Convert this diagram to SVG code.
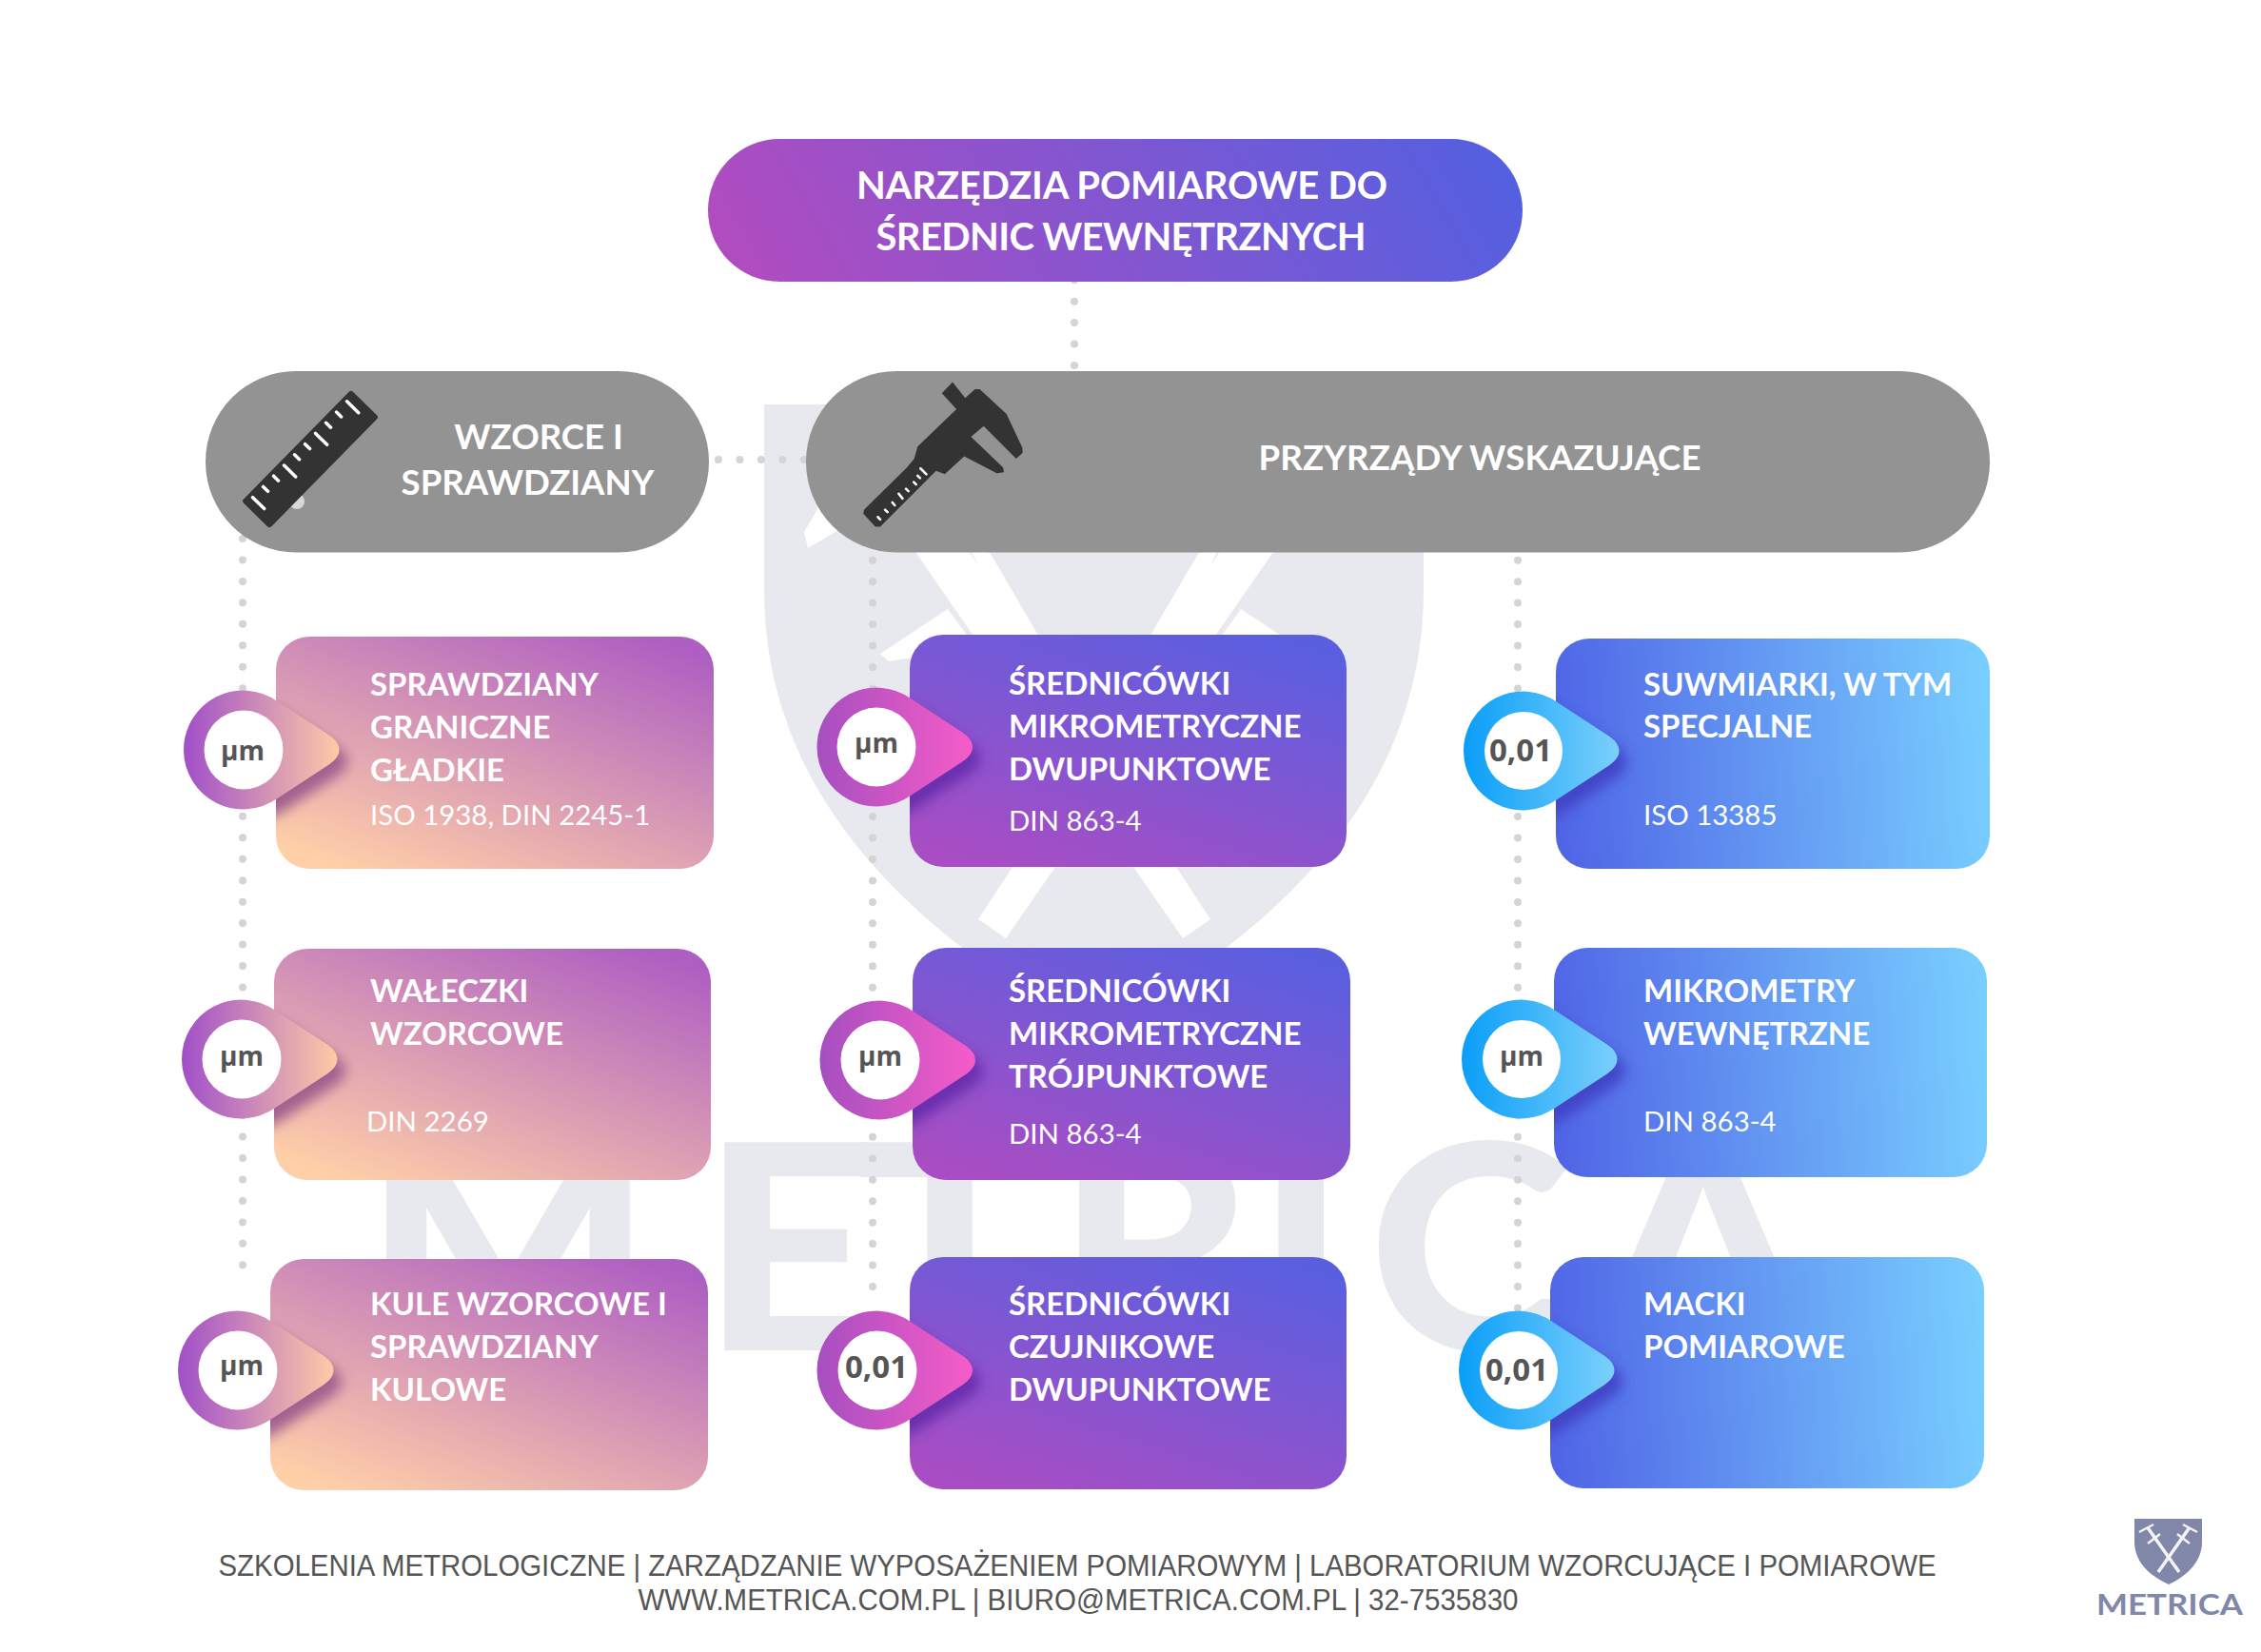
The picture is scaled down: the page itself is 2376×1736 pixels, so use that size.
<svg xmlns="http://www.w3.org/2000/svg" width="2376" height="1736" viewBox="0 0 2376 1736">
<style>
text{font-family:Lato,"Noto Sans",sans-serif;fill:#fff}
.h{font-size:33px;font-weight:700}
.s{font-size:29.400px;font-weight:400}
.p{font-size:36.600px;font-weight:700}
.t{font-size:40px;font-weight:700}
.pl{font-family:"Open Sans","Noto Sans",sans-serif;fill:#555;font-weight:700;text-anchor:middle}
.um{font-size:28px}.n{font-size:33px}
.f{font-family:"Liberation Sans",Arial,sans-serif;fill:#555;font-size:31px;text-anchor:middle}
.wm{fill:#e8e9ef;stroke:#e8e9ef;font-weight:700}
.lg{fill:#8087a8;font-weight:700}
.dots{fill:none;stroke:#d4d4d4;stroke-width:8;stroke-linecap:round;stroke-dasharray:0 22.45}
.grey{fill:#939393}
.dark{fill:#333}
.tick{fill:none;stroke:#fff;stroke-width:3.500;stroke-linecap:round}
.w{fill:#fff}
</style>
<defs>
<linearGradient id="gt" x1="0" y1="0.55" x2="1" y2="0.45"><stop offset="0" stop-color="#b14cc0"/><stop offset="1" stop-color="#5460e0"/></linearGradient>
<linearGradient id="g1" x1="0.15" y1="1" x2="0.85" y2="0"><stop offset="0" stop-color="#ffcfa8"/><stop offset="1" stop-color="#ae5fc2"/></linearGradient>
<linearGradient id="g2" x1="0.2" y1="1" x2="0.8" y2="0"><stop offset="0" stop-color="#a84dc3"/><stop offset="1" stop-color="#5a5fe0"/></linearGradient>
<linearGradient id="g3" x1="0" y1="0.52" x2="1" y2="0.48"><stop offset="0" stop-color="#5065e6"/><stop offset="1" stop-color="#78ceff"/></linearGradient>
<linearGradient id="p1" x1="0" y1="0.5" x2="1" y2="0.5"><stop offset="0" stop-color="#a04fc8"/><stop offset="1" stop-color="#fdcba6"/></linearGradient>
<linearGradient id="p2" x1="0" y1="0.5" x2="1" y2="0.5"><stop offset="0" stop-color="#a64fc0"/><stop offset="1" stop-color="#f65cc8"/></linearGradient>
<linearGradient id="p3" x1="0" y1="0.5" x2="1" y2="0.5"><stop offset="0" stop-color="#0a9ef8"/><stop offset="1" stop-color="#7bd0fc"/></linearGradient>
<path id="pin" d="M-62.500 0A62.500 62.500 0 0 1 36-51L91-15Q101-8 101 0Q101 8 91 15L36 51A62.500 62.500 0 0 1-62.500 0Z"/>
<filter id="blur" x="-30%" y="-30%" width="160%" height="160%"><feGaussianBlur stdDeviation="7"/></filter>
<clipPath id="c11"><rect x="290" y="669" width="460" height="244" rx="35"/></clipPath>
<clipPath id="c12"><rect x="288" y="997" width="459" height="243" rx="35"/></clipPath>
<clipPath id="c13"><rect x="284" y="1323" width="460" height="243" rx="35"/></clipPath>
<clipPath id="c21"><rect x="956" y="667" width="459" height="244" rx="35"/></clipPath>
<clipPath id="c22"><rect x="959" y="996" width="460" height="244" rx="35"/></clipPath>
<clipPath id="c23"><rect x="956" y="1321" width="459" height="244" rx="35"/></clipPath>
<clipPath id="c31"><rect x="1635" y="671" width="456" height="242" rx="35"/></clipPath>
<clipPath id="c32"><rect x="1633" y="996" width="455" height="241" rx="35"/></clipPath>
<clipPath id="c33"><rect x="1629" y="1321" width="456" height="243" rx="35"/></clipPath>
<g id="arm">
<path class="w" d="M955 570L1012 570L1272 966L1243 986Z"/>
<path class="w" d="M1016 570L1041 582L1110 700L1080 700Z"/>
<path class="w" d="M925 687L996 640L1025 680L934 695Z"/>
<path class="w" d="M845 559L849 576L890 552L862 530Z"/>
</g>
</defs>
<rect width="2376" height="1736" fill="#fff"/>

<g id="watermark">
<path fill="#e8e9ef" d="M803 425H1496V620C1496 790 1400 950 1150 1085C900 950 803 790 803 620Z"/>
<use href="#arm"/>
<use href="#arm" transform="matrix(-1 0 0 1 2300 0)"/>
<text class="wm" transform="scale(1.08 1)" x="354 683 835 1028 1222 1332 1554" y="1417" font-size="297" stroke-width="4">METRICA</text>
</g>

<g id="connectors">
<path class="dots" d="M1129 294.200V390"/>
<path class="dots" d="M755 483H860"/>
<path class="dots" d="M255 566V1350"/>
<path class="dots" d="M917 588.700V1355"/>
<path class="dots" d="M1595 588.700V1375"/>
</g>

<g id="title"><rect x="744" y="146" width="856" height="150" rx="75" fill="url(#gt)"/>
<text class="t" x="1179" y="209" text-anchor="middle" textLength="558">NARZĘDZIA POMIAROWE DO</text>
<text class="t" x="1178" y="263" text-anchor="middle" textLength="515">ŚREDNIC WEWNĘTRZNYCH</text></g>

<g id="wzorce"><rect class="grey" x="216" y="390" width="529" height="190.500" rx="95"/>
<circle cx="312" cy="527" r="8" fill="#d8d8d8"/>
<g transform="translate(326 482.500) rotate(-45.500)">
<rect class="dark" x="-82" y="-20.500" width="164" height="41" rx="3"/>
<path class="tick" d="M-71-15V2M-55.300-15V-8M-39.600-15V-8M-23.900-15V2M-8.200-15V-8M7.500-15V-8M23.200-15V2M38.900-15V-8M54.600-15V-8M70.300-15V2"/>
</g>
<text class="p" x="566" y="472" text-anchor="middle">WZORCE I</text>
<text class="p" x="554.500" y="520" text-anchor="middle">SPRAWDZIANY</text></g>

<g id="przyrzady"><rect class="grey" x="847" y="390" width="1244" height="190.500" rx="95"/>
<g transform="translate(800 130) scale(.5102)">
<path class="dark" d="M394 532L372 555L402 588L322 665L315 690L300 708L212 795L210 803L235 830L245 830L360 715L378 722L418 685L485 720L500 718L498 708L432 645L458 623L525 690L538 678L538 668L505 598L450 547L440 547L420 565Z"/>
<path fill="none" stroke="#fff" stroke-width="5" stroke-linecap="round" d="M240 810l5 5M255 795l5 5M270 780l5 6M283 762l8 10M298 752l5 5M314 738l5 5M328 710l12 12M322 725l5 5"/>
</g>
<text class="p" x="1555" y="494" text-anchor="middle" textLength="465">PRZYRZĄDY WSKAZUJĄCE</text></g>

<g id="sprawdziany-graniczne"><rect x="290" y="669" width="460" height="244" rx="35" fill="url(#g1)"/>
<g clip-path="url(#c11)"><use href="#pin" transform="translate(264 800)" fill="#a0608f" filter="url(#blur)"/></g>
<use href="#pin" transform="translate(255.500 788)" fill="url(#p1)"/><circle class="w" cx="256" cy="788" r="41.500"/>
<text class="pl um" x="255" y="799">µm</text>
<text class="h" x="389" y="730.500">SPRAWDZIANY</text><text class="h" x="389" y="775.500">GRANICZNE</text><text class="h" x="389" y="821">GŁADKIE</text>
<text class="s" x="389" y="867">ISO 1938, DIN 2245-1</text></g>

<g id="waleczki"><rect x="288" y="997" width="459" height="243" rx="35" fill="url(#g1)"/>
<g clip-path="url(#c12)"><use href="#pin" transform="translate(262 1125)" fill="#a0608f" filter="url(#blur)"/></g>
<use href="#pin" transform="translate(253.500 1113)" fill="url(#p1)"/><circle class="w" cx="254" cy="1113" r="41.500"/>
<text class="pl um" x="254" y="1120">µm</text>
<text class="h" x="389" y="1052.500">WAŁECZKI</text><text class="h" x="389" y="1097.500">WZORCOWE</text>
<text class="s" x="385" y="1189">DIN 2269</text></g>

<g id="kule"><rect x="284" y="1323" width="460" height="243" rx="35" fill="url(#g1)"/>
<g clip-path="url(#c13)"><use href="#pin" transform="translate(258 1452)" fill="#a0608f" filter="url(#blur)"/></g>
<use href="#pin" transform="translate(249.500 1440)" fill="url(#p1)"/><circle class="w" cx="250" cy="1440" r="41.500"/>
<text class="pl um" x="254" y="1445">µm</text>
<text class="h" x="389" y="1381.500">KULE WZORCOWE I</text><text class="h" x="389" y="1426.500">SPRAWDZIANY</text><text class="h" x="389" y="1471.500">KULOWE</text></g>

<g id="srednicowki-2p"><rect x="956" y="667" width="459" height="244" rx="35" fill="url(#g2)"/>
<g clip-path="url(#c21)"><use href="#pin" transform="translate(929 797)" fill="#6a2fae" filter="url(#blur)"/></g>
<use href="#pin" transform="translate(921 785)" fill="url(#p2)"/><circle class="w" cx="921" cy="785" r="41.500"/>
<text class="pl um" x="921" y="791">µm</text>
<text class="h" x="1060" y="730">ŚREDNICÓWKI</text><text class="h" x="1060" y="775">MIKROMETRYCZNE</text><text class="h" x="1060" y="820">DWUPUNKTOWE</text>
<text class="s" x="1060" y="873">DIN 863-4</text></g>

<g id="srednicowki-3p"><rect x="959" y="996" width="460" height="244" rx="35" fill="url(#g2)"/>
<g clip-path="url(#c22)"><use href="#pin" transform="translate(932 1126)" fill="#6a2fae" filter="url(#blur)"/></g>
<use href="#pin" transform="translate(924 1114)" fill="url(#p2)"/><circle class="w" cx="925" cy="1114" r="41.500"/>
<text class="pl um" x="925" y="1120">µm</text>
<text class="h" x="1060" y="1052.500">ŚREDNICÓWKI</text><text class="h" x="1060" y="1097.500">MIKROMETRYCZNE</text><text class="h" x="1060" y="1143">TRÓJPUNKTOWE</text>
<text class="s" x="1060" y="1202">DIN 863-4</text></g>

<g id="srednicowki-czujnikowe"><rect x="956" y="1321" width="459" height="244" rx="35" fill="url(#g2)"/>
<g clip-path="url(#c23)"><use href="#pin" transform="translate(929 1452)" fill="#6a2fae" filter="url(#blur)"/></g>
<use href="#pin" transform="translate(921 1440)" fill="url(#p2)"/><circle class="w" cx="922" cy="1440" r="41.500"/>
<text class="pl n" x="921" y="1448">0,01</text>
<text class="h" x="1060" y="1381.500">ŚREDNICÓWKI</text><text class="h" x="1060" y="1426.500">CZUJNIKOWE</text><text class="h" x="1060" y="1471.500">DWUPUNKTOWE</text></g>

<g id="suwmiarki"><rect x="1635" y="671" width="456" height="242" rx="35" fill="url(#g3)"/>
<g clip-path="url(#c31)"><use href="#pin" transform="translate(1609 801)" fill="#4244c8" filter="url(#blur)"/></g>
<use href="#pin" transform="translate(1600.500 789)" fill="url(#p3)"/><circle class="w" cx="1601" cy="789" r="41"/>
<text class="pl n" x="1598" y="800">0,01</text>
<text class="h" x="1727" y="730.500">SUWMIARKI, W TYM</text><text class="h" x="1727" y="775">SPECJALNE</text>
<text class="s" x="1727" y="867">ISO 13385</text></g>

<g id="mikrometry"><rect x="1633" y="996" width="455" height="241" rx="35" fill="url(#g3)"/>
<g clip-path="url(#c32)"><use href="#pin" transform="translate(1607 1125)" fill="#4244c8" filter="url(#blur)"/></g>
<use href="#pin" transform="translate(1598.500 1113)" fill="url(#p3)"/><circle class="w" cx="1599" cy="1113" r="41"/>
<text class="pl um" x="1599" y="1120">µm</text>
<text class="h" x="1727" y="1052.500">MIKROMETRY</text><text class="h" x="1727" y="1097.500">WEWNĘTRZNE</text>
<text class="s" x="1727" y="1189">DIN 863-4</text></g>

<g id="macki"><rect x="1629" y="1321" width="456" height="243" rx="35" fill="url(#g3)"/>
<g clip-path="url(#c33)"><use href="#pin" transform="translate(1604 1452)" fill="#4244c8" filter="url(#blur)"/></g>
<use href="#pin" transform="translate(1595.500 1440)" fill="url(#p3)"/><circle class="w" cx="1596" cy="1440" r="41"/>
<text class="pl n" x="1594" y="1451">0,01</text>
<text class="h" x="1727" y="1381.500">MACKI</text><text class="h" x="1727" y="1426.500">POMIAROWE</text></g>

<g id="footer">
<text class="f" x="1132" y="1656" textLength="1805" lengthAdjust="spacingAndGlyphs">SZKOLENIA METROLOGICZNE | ZARZĄDZANIE WYPOSAŻENIEM POMIAROWYM | LABORATORIUM WZORCUJĄCE I POMIAROWE</text>
<text class="f" x="1133" y="1692" textLength="925" lengthAdjust="spacingAndGlyphs">WWW.METRICA.COM.PL | BIURO@METRICA.COM.PL | 32-7535830</text>
</g>

<g id="logo">
<path fill="#8087a8" d="M2243 1596H2314V1620C2314 1640 2300 1655 2279 1665C2257 1655 2243 1640 2243 1620Z"/>
<g fill="none" stroke="#f4f4f8" stroke-width="3.500"><path d="M2256.700 1605L2290 1652M2301 1605L2268 1652"/><path d="M2248 1610L2263 1602M2309 1610L2294 1602" stroke-width="2.500"/><path d="M2257 1622L2270 1612M2301 1622L2288 1612" stroke-width="2.500"/></g>
<text class="lg" x="2203" y="1697" font-size="30.500" textLength="154" lengthAdjust="spacingAndGlyphs">METRICA</text>
</g>
</svg>
